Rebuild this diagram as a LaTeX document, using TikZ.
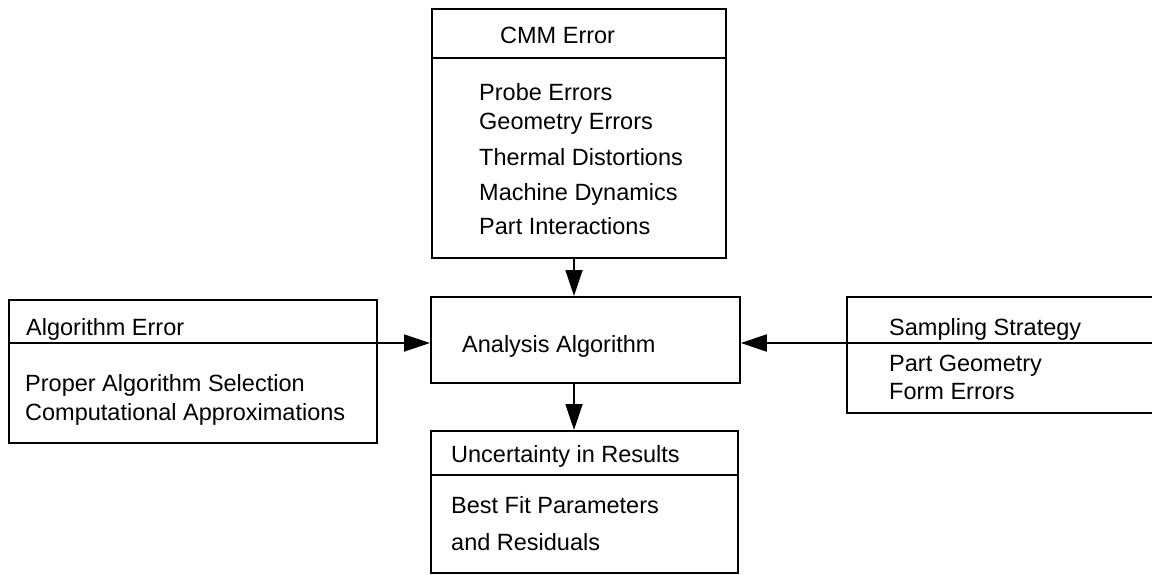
\documentclass[tikz,border=0pt]{standalone}
\usepackage{fontspec}
\setmainfont{Liberation Sans}
\usetikzlibrary{arrows.meta}
\tikzset{
  box/.style={draw, line width=1.8pt, rectangle, inner sep=0pt, anchor=north west},
  lbl/.style={anchor=base west, inner sep=0pt, font=\fontsize{23.5}{28}\selectfont},
  arr/.style={line width=1.8pt, -{Triangle[length=26pt,width=17pt]}},
  divider/.style={line width=1.8pt}
}
\begin{document}
\begin{tikzpicture}[x=1pt,y=-1pt]
\clip (0,0) rectangle (1152,574);
\fill[white] (0,0) rectangle (1152,574);
% boxes
\node[box, minimum width=294pt, minimum height=249pt] (cmm) at (431,8) {};
\node[box, minimum width=309pt, minimum height=86pt] (ana) at (430,296) {};
\node[box, minimum width=307pt, minimum height=142pt] (unc) at (430,430) {};
\node[box, minimum width=368pt, minimum height=143pt] (alg) at (8,299) {};
\node[box, minimum width=330pt, minimum height=116pt] (samp) at (846,296) {};
% dividers
\draw[divider] ([yshift=-50pt]cmm.north west) -- ([yshift=-50pt]cmm.north east);
\draw[divider] ([yshift=-45pt]unc.north west) -- ([yshift=-45pt]unc.north east);
\draw[divider] ([yshift=-44pt]alg.north west) -- ([yshift=-44pt]alg.north east);
\draw[divider] ([yshift=-47pt]samp.north west) -- ([yshift=-47pt]samp.north east);
% texts
\node[lbl] (t1) at (500,43) {CMM Error};
\node[lbl] (t2) at (479,100) {Probe Errors};
\node[lbl] (t3) at (479,129) {Geometry Errors};
\node[lbl] (t4) at (479,165) {Thermal Distortions};
\node[lbl] (t5) at (479,200) {Machine Dynamics};
\node[lbl] (t6) at (479,234) {Part Interactions};
\node[lbl] (t7) at (462,352) {Analysis Algorithm};
\node[lbl] (t8) at (451,462) {Uncertainty in Results};
\node[lbl] (t9) at (451,513) {Best Fit Parameters};
\node[lbl] (t10) at (451,550) {and Residuals};
\node[lbl] (t11) at (26,335) {Algorithm Error};
\node[lbl] (t12) at (25,391) {Proper Algorithm Selection};
\node[lbl] (t13) at (25,420) {Computational Approximations};
\node[lbl] (t14) at (889,335) {Sampling Strategy};
\node[lbl] (t15) at (889,371) {Part Geometry};
\node[lbl] (t16) at (889,399) {Form Errors};
% connectors
\coordinate (xa) at (574,0);
\coordinate (ya) at (0,343);
\draw[arr] (cmm.south -| xa) -- (ana.north -| xa);
\draw[arr] (ana.south -| xa) -- (unc.north -| xa);
\draw[arr] (alg.east |- ya) -- (ana.west |- ya);
\draw[arr] (samp.west |- ya) -- (ana.east |- ya);
\end{tikzpicture}
\end{document}
